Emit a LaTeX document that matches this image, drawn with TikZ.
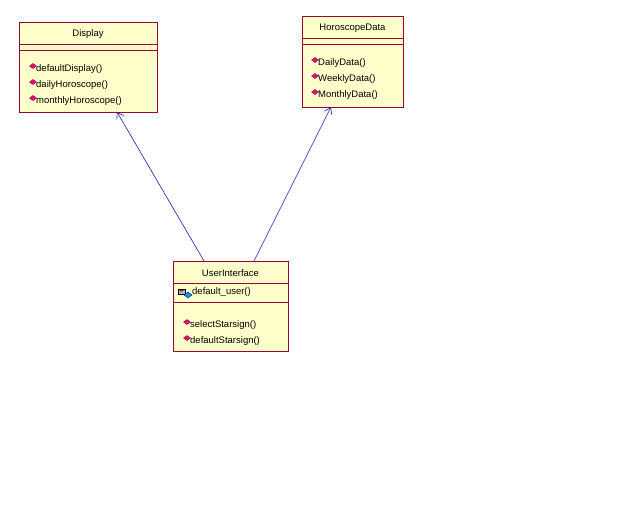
\documentclass[tikz,border=0pt]{standalone}
\usepackage{fontspec}
\setmainfont{Liberation Sans}
\usetikzlibrary{arrows.meta}
\definecolor{boxfill}{HTML}{FFFFCC}
\definecolor{boxline}{HTML}{990033}
\definecolor{arr}{HTML}{1A1AB0}
\tikzset{
  cls/.style={draw=boxline,fill=boxfill,line width=0.8pt},
  sep/.style={draw=boxline,line width=0.8pt},
  txt/.style={font=\fontsize{9.5}{11}\selectfont,inner sep=0pt,anchor=west},
  ttl/.style={font=\fontsize{9.5}{11}\selectfont,inner sep=0pt},
  dia/.style={fill=magenta!80!purple,draw=purple!60!black,line width=0.3pt},
  gen/.style={draw=arr,line width=0.6pt,-{Straight Barb[length=6pt,width=8pt]}}
}
\newcommand{\meth}[3]{\path[dia] (#1-3.5,#2-3) -- (#1,#2-5.5) -- (#1+3.5,#2-3) -- (#1,#2-0.5) -- cycle;
  \node[txt] at (#1+3,#2) {#3};}
\begin{document}
\begin{tikzpicture}[x=1pt,y=-1pt]
\useasboundingbox[fill=white] (0,0) rectangle (640,512);
% Display
\path[cls] (19,22) rectangle (157,112);
\coordinate (dispB) at (117,112);
\node[ttl] (dt) at (88,34) {Display};
\draw[sep] (19,44) -- (157,44); \draw[sep] (19,50) -- (157,50);
\meth{33}{69}{defaultDisplay()}
\meth{33}{85}{dailyHoroscope()}
\meth{33}{101}{monthlyHoroscope()}
% HoroscopeData
\path[cls] (302,16) rectangle (403,107);
\coordinate (horB) at (331,107);
\node[ttl] (ht) at (352.5,28) {HoroscopeData};
\draw[sep] (302,38) -- (403,38); \draw[sep] (302,44) -- (403,44);
\meth{315}{63}{DailyData()}
\meth{315}{79}{WeeklyData()}
\meth{315}{95}{MonthlyData()}
% UserInterface
\path[cls] (173,261) rectangle (288,351);
\coordinate (uiA) at (204,261);
\coordinate (uiB) at (254,261);
\node[ttl] (ut) at (230.5,273) {UserInterface};
\draw[sep] (173,283) -- (288,283); \draw[sep] (173,302) -- (288,302);
\path[fill=gray!60,draw=black,line width=0.3pt] (178,289) rectangle (185,294);
\draw[line width=0.6pt] (179.5,289) arc[start angle=180,end angle=0,radius=2];
\path[fill=cyan!80!blue,draw=blue!60!black,line width=0.3pt] (184,295) -- (188,292) -- (192,295) -- (188,298) -- cycle;
\node[txt] at (192,292.5) {default\_user()};
\meth{187}{325}{selectStarsign()}
\meth{187}{341}{defaultStarsign()}
% arrows
\draw[gen] (uiA) -- (dispB);
\draw[gen] (uiB) -- (horB);
\end{tikzpicture}
\end{document}
